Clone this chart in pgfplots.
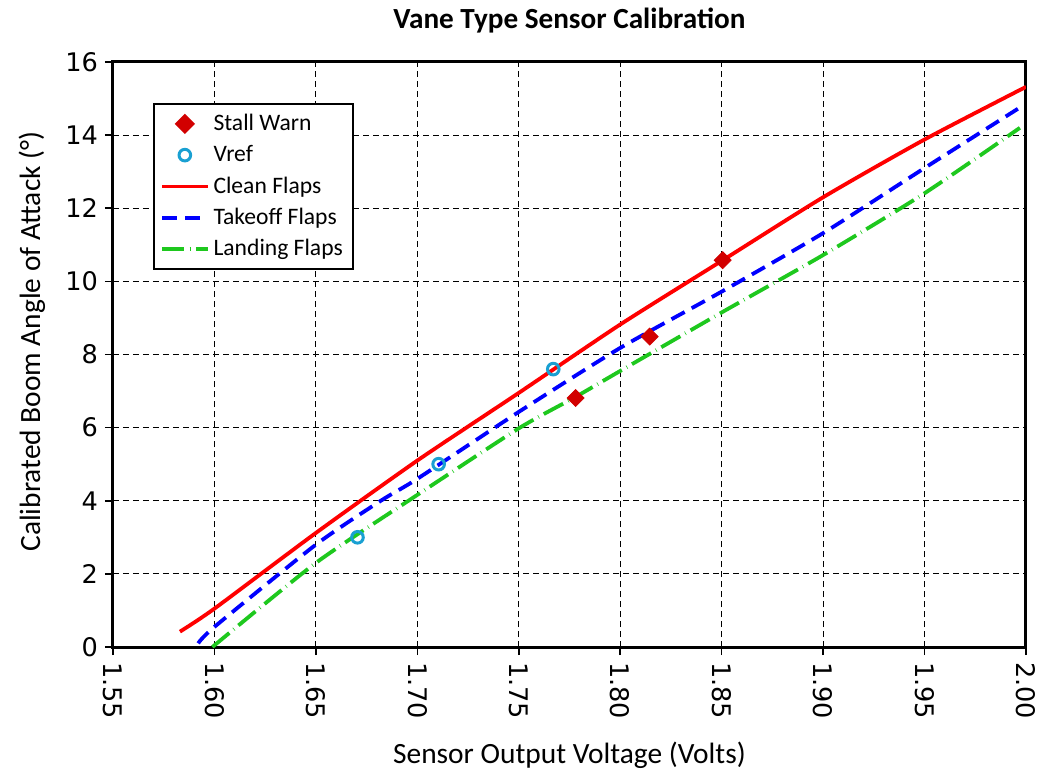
\documentclass[border=0pt]{standalone}
\usepackage{fontspec}
\setmainfont{Carlito}
\newfontfamily\tickfont{DejaVu Sans}
\usepackage{pgfplots}
\pgfplotsset{compat=1.18}

\definecolor{stallred}{RGB}{210,0,0}
\definecolor{vrefcyan}{RGB}{25,160,210}
\definecolor{cleanred}{RGB}{255,0,0}
\definecolor{tkblue}{RGB}{0,0,255}
\definecolor{ldgreen}{RGB}{30,200,30}

\pgfplotsset{
  lineleg/.style={legend image code/.code={\draw[##1] (0pt,0pt) -- (0.8cm,0pt);}},
  markleg/.style={legend image code/.code={\draw[##1] plot coordinates {(0.4cm,0pt)};}},
  tkdash/.style={dash pattern=on 7.5pt off 4pt},
  lddash/.style={dash pattern=on 11pt off 2.8pt on 0.3pt off 2.8pt},
}

\begin{document}
\begin{tikzpicture}
\begin{axis}[
  scale only axis,
  width=456.5pt, height=292.5pt,
  xmin=1.55, xmax=2.00,
  ymin=0, ymax=16,
  xtick={1.55,1.60,1.65,1.70,1.75,1.80,1.85,1.90,1.95,2.00},
  ytick={0,2,4,6,8,10,12,14,16},
  /pgf/number format/assume math mode=true,
  xticklabel style={/pgf/number format/fixed, /pgf/number format/fixed zerofill,
    /pgf/number format/precision=2, rotate=-90, anchor=west, font=\tickfont\fontsize{12.8}{14}\selectfont},
  yticklabel style={font=\tickfont\fontsize{12.8}{14}\selectfont},
  tick align=outside, tick pos=left,
  major tick length=4pt,
  every tick/.style={black, line width=0.8pt},
  axis line style={black, line width=1.5pt},
  grid=major,
  grid style={black, line width=0.5pt, dash pattern=on 3pt off 2pt},
  title={\bfseries Vane Type Sensor Calibration},
  title style={at={(axis description cs:0.5,1)}, anchor=base, yshift=10.5pt, font=\fontsize{14.6}{16}\selectfont},
  xlabel={Sensor Output Voltage (Volts)},
  xlabel style={at={(axis description cs:0.5,0)}, anchor=center, yshift=-54pt, font=\fontsize{14.7}{16}\selectfont},
  ylabel={Calibrated Boom Angle of Attack (°)},
  ylabel style={at={(axis description cs:-0.0887,0.522)}, anchor=center, font=\fontsize{14.7}{16}\selectfont},
  legend style={at={(0.0438,0.93)}, anchor=north west, draw=black, line width=1.2pt,
    font=\fontsize{11.8}{13}\selectfont, row sep=2pt, inner sep=3pt},
  legend cell align=left,
]
% legend entries
\addlegendimage{markleg, only marks, mark=square*, mark size=3pt, mark options={rotate=45}, color=stallred}
\addlegendentry{Stall Warn}
\addlegendimage{markleg, only marks, mark=o, mark size=2.9pt, line width=1.5pt, color=vrefcyan}
\addlegendentry{Vref}
\addlegendimage{lineleg, cleanred, line width=1.9pt}
\addlegendentry{Clean Flaps}
\addlegendimage{lineleg, tkblue, line width=1.9pt, tkdash}
\addlegendentry{Takeoff Flaps}
\addlegendimage{lineleg, ldgreen, line width=1.9pt, lddash}
\addlegendentry{Landing Flaps}

% Clean flaps
\addplot[cleanred, line width=1.9pt, smooth, tension=0.4, forget plot] coordinates {
  (1.583,0.42) (1.60,1.05) (1.65,3.12) (1.70,5.10) (1.75,6.95)
  (1.80,8.82) (1.85,10.56) (1.90,12.30) (1.95,13.88) (2.00,15.32)
};
% Takeoff flaps
\addplot[tkblue, line width=1.9pt, tkdash, smooth, tension=0.4, forget plot] coordinates {
  (1.592,0.10) (1.60,0.55) (1.65,2.80) (1.682,4.00) (1.70,4.60) (1.75,6.43)
  (1.80,8.18) (1.85,9.72) (1.90,11.32) (1.95,13.10) (1.996,14.72)
};
% Landing flaps
\addplot[ldgreen, line width=1.9pt, lddash, smooth, tension=0.4, forget plot] coordinates {
  (1.599,0.00) (1.65,2.30) (1.70,4.16) (1.75,5.98) (1.778,6.84) (1.80,7.55)
  (1.85,9.15) (1.90,10.72) (1.95,12.41) (1.997,14.20)
};
% Stall warn
\addplot[only marks, mark=square*, mark size=3pt, mark options={rotate=45}, color=stallred, forget plot] coordinates {
  (1.778,6.81) (1.8145,8.49) (1.8505,10.58)
};
% Vref
\addplot[only marks, mark=o, mark size=2.9pt, line width=1.5pt, color=vrefcyan, forget plot] coordinates {
  (1.6705,3.00) (1.7105,5.00) (1.767,7.60)
};
\end{axis}
\pgfresetboundingbox
\path[use as bounding box] (-56.5pt,-62.5pt) rectangle (463.5pt,323.5pt);
\end{tikzpicture}
\end{document}
